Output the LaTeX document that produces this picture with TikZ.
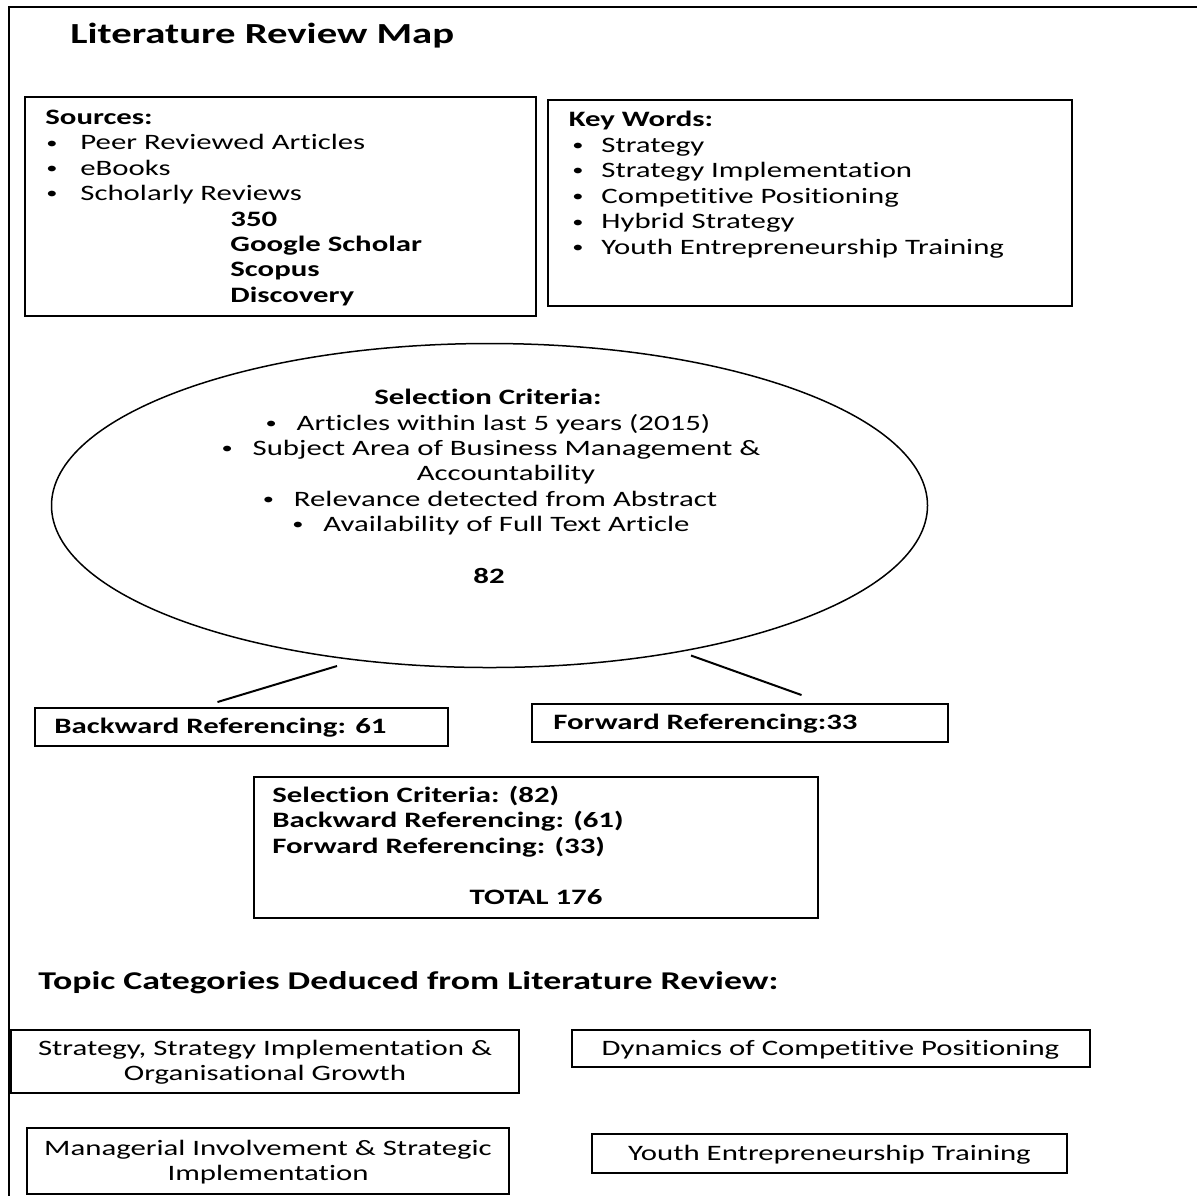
\documentclass[tikz,border=0pt]{standalone}
\usepackage{fontspec}
\setmainfont[FakeStretch=1.4, Ligatures=NoCommon]{Carlito}
\newcommand\smallbul{\raisebox{0.9pt}{\fontsize{8}{8}\selectfont\textbullet}}
\newcommand\blt{\makebox[15.5pt][l]{\smallbul}}
\begin{document}
\begin{tikzpicture}[x=0.5pt,y=-0.5pt,
  frame/.style={line width=1pt},
  box/.style={draw, line width=1pt, inner sep=0pt},
  oval/.style={line width=0.75pt},
  link/.style={line width=1pt},
  body/.style={inner sep=0pt, font=\fontsize{11}{13}\selectfont},
  txt/.style={body, anchor=base west},
  btxt/.style={txt, font=\fontsize{11}{13}\selectfont\bfseries},
  ctxt/.style={body, anchor=base},
  bctxt/.style={ctxt, font=\fontsize{11}{13}\selectfont\bfseries}]
\useasboundingbox (0,0) rectangle (1197,1196);

% outer frame: top and left edges only
\draw[frame] (1197,7) -- (9,7) -- (9,1196);

% title
\node[anchor=base west, inner sep=0pt, font=\fontsize{14.55}{17}\selectfont\bfseries] (title) at (70,43.5) {Literature Review Map};

% sources
\node[box, minimum width=255.5pt, minimum height=109.5pt] (src) at (280.5,206.5) {};
\node[btxt] (srch) at (45,124.5) {Sources:};
\foreach \t [count=\i] in {Peer Reviewed Articles, eBooks, Scholarly Reviews}{
  \node[txt] (srcb\i) at (46,124.5+25.4*\i) {\smallbul};
  \node[txt] (srct\i) at (80,124.5+25.4*\i) {\t};
}
\foreach \t [count=\i] in {350, Google Scholar, Scopus, Discovery}{
  \node[btxt] (srcd\i) at (230,200.7+25.4*\i) {\t};
}

% key words
\node[box, minimum width=262pt, minimum height=103pt] (kw) at (810,203) {};
\node[btxt] (kwh) at (568.5,126.5) {Key Words:};
\foreach \t [count=\i] in {Strategy, Strategy Implementation, Competitive Positioning, Hybrid Strategy, Youth Entrepreneurship Training}{
  \node[txt] (kwb\i) at (572,126.5+25.6*\i) {\smallbul};
  \node[txt] (kwt\i) at (601,126.5+25.6*\i) {\t};
}

% selection criteria
\draw[oval] (489.5,505.5) ellipse [x radius=438, y radius=162];
\coordinate (sel) at (489.5,505.5);
\node[bctxt] (selh) at (488,404) {Selection Criteria:};
\node[ctxt] (sel1) at (488,430) {\blt Articles within last 5 years (2015)};
\node[ctxt] (sel2) at (491,455.3) {\blt Subject Area of Business Management \&};
\node[ctxt] (sel2b) at (506,480.7) {Accountability};
\node[ctxt] (sel3) at (490,506) {\blt Relevance detected from Abstract};
\node[ctxt] (sel4) at (491,531.7) {\blt Availability of Full Text Article};
\node[bctxt] (selnum) at (489,583.3) {82};

% backward / forward referencing
\node[box, minimum width=206.5pt, minimum height=19pt] (bw) at (241.3,726.8) {};
\node[btxt] (bwt) at (54,733.3) {Backward Referencing: 61};
\node[box, minimum width=208pt, minimum height=19pt] (fw) at (740,722.5) {};
\node[btxt] (fwt) at (553,729.3) {Forward Referencing:33};

\coordinate (bwa) at (337,666);
\coordinate (bwb) at (217.5,702);
\coordinate (fwa) at (691,655.5);
\coordinate (fwb) at (801.5,695);
\draw[link] (bwa) -- (bwb);
\draw[link] (fwa) -- (fwb);

% totals
\node[box, minimum width=282pt, minimum height=70.5pt] (tot) at (536,847.3) {};
\node[btxt] (tot1) at (272,802) {Selection Criteria: (82)};
\node[btxt] (tot2) at (272,827.5) {Backward Referencing: (61)};
\node[btxt] (tot3) at (272,853) {Forward Referencing: (33)};
\node[bctxt] (tot4) at (536,904.5) {TOTAL 176};

% topic categories
\node[anchor=base west, inner sep=0pt, font=\fontsize{12.8}{15}\selectfont\bfseries] (topics) at (38,989) {Topic Categories Deduced from Literature Review:};

\node[box, minimum width=254pt, minimum height=31.5pt] (c1) at (265,1061.5) {};
\node[ctxt] (c1a) at (265,1055.5) {Strategy, Strategy Implementation \&};
\node[ctxt] (c1b) at (265,1080.5) {Organisational Growth};

\node[box, minimum width=259pt, minimum height=18.5pt] (c2) at (830.5,1048.5) {};
\node[ctxt] (c2a) at (830.5,1055) {Dynamics of Competitive Positioning};

\node[box, minimum width=241pt, minimum height=33pt] (c3) at (268,1161) {};
\node[ctxt] (c3a) at (268,1155) {Managerial Involvement \& Strategic};
\node[ctxt] (c3b) at (268,1180) {Implementation};

\node[box, minimum width=237.5pt, minimum height=19.5pt] (c4) at (829.5,1153.5) {};
\node[ctxt] (c4a) at (829.5,1160) {Youth Entrepreneurship Training};
\end{tikzpicture}
\end{document}
